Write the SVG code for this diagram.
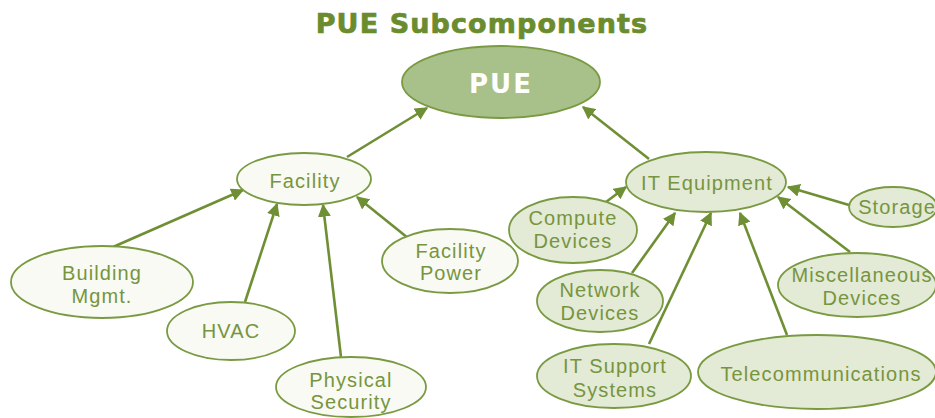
<svg xmlns="http://www.w3.org/2000/svg" width="935" height="418" viewBox="0 0 935 418">
<defs>
<style>
.t{font-family:"Liberation Sans",Arial,sans-serif;font-size:20px;fill:#77953e;text-anchor:middle;letter-spacing:1.1px}
.light{fill:#f8faf3;stroke:#7a9a42;stroke-width:1.8}
.green{fill:#e3ead5;stroke:#7a9a42;stroke-width:1.8}
.c{stroke:#6f8f34;stroke-width:2.6;fill:none;marker-end:url(#ah)}
</style>
<marker id="ah" viewBox="0 0 10 10" refX="9" refY="5" markerWidth="5" markerHeight="5" markerUnits="strokeWidth" orient="auto">
<path d="M0,0 L10,5 L0,10 z" fill="#6f8f34"/>
</marker>
</defs>
<rect width="935" height="418" fill="#ffffff"/>
<text x="482" y="33" style="font-family:'DejaVu Sans',sans-serif;font-size:27px;font-weight:bold;fill:#6a8c2e;stroke:#6a8c2e;stroke-width:0.7;text-anchor:middle;letter-spacing:1.1px">PUE Subcomponents</text>
<g id="connectors">
<line class="c" x1="347" y1="157" x2="427" y2="108"/>
<line class="c" x1="649" y1="159" x2="583" y2="107"/>
<line class="c" x1="113" y1="247" x2="243" y2="190"/>
<line class="c" x1="245" y1="302" x2="277" y2="204"/>
<line class="c" x1="341" y1="357" x2="323" y2="205"/>
<line class="c" x1="408" y1="238" x2="357" y2="197"/>
<line class="c" x1="606" y1="202" x2="626" y2="187"/>
<line class="c" x1="632" y1="273" x2="675" y2="213"/>
<line class="c" x1="649" y1="344" x2="711" y2="213"/>
<line class="c" x1="787" y1="335" x2="740" y2="213"/>
<line class="c" x1="850" y1="252" x2="778" y2="197"/>
<line class="c" x1="849" y1="205" x2="788" y2="187"/>
</g>
<g id="pue">
<ellipse cx="501" cy="82" rx="99" ry="36" fill="#a8c08a" stroke="#7a9a42" stroke-width="1.8"/>
<text x="501" y="93" style="font-family:'DejaVu Sans',sans-serif;font-size:26px;font-weight:bold;fill:#ffffff;text-anchor:middle;letter-spacing:2px">PUE</text>
</g>
<g id="facility">
<ellipse class="light" cx="304" cy="179" rx="67" ry="26"/>
<text class="t" x="305" y="188">Facility</text>
</g>
<g id="building">
<ellipse class="light" cx="102" cy="282" rx="91" ry="36"/>
<text class="t" x="102" y="280">Building</text>
<text class="t" x="102" y="303">Mgmt.</text>
</g>
<g id="hvac">
<ellipse class="light" cx="231" cy="331" rx="64" ry="29"/>
<text class="t" x="231" y="338">HVAC</text>
</g>
<g id="physical">
<ellipse class="light" cx="351" cy="387" rx="75" ry="30"/>
<text class="t" x="351" y="387">Physical</text>
<text class="t" x="351" y="409">Security</text>
</g>
<g id="facilitypower">
<ellipse class="light" cx="450" cy="261" rx="68" ry="32"/>
<text class="t" x="451" y="258">Facility</text>
<text class="t" x="451" y="280">Power</text>
</g>
<g id="itequipment">
<ellipse class="green" cx="706" cy="182" rx="80" ry="30"/>
<text class="t" x="707" y="190">IT Equipment</text>
</g>
<g id="compute">
<ellipse class="green" cx="573" cy="230" rx="64" ry="33"/>
<text class="t" x="573" y="225">Compute</text>
<text class="t" x="573" y="248">Devices</text>
</g>
<g id="network">
<ellipse class="green" cx="600" cy="301" rx="63" ry="31"/>
<text class="t" x="600" y="297">Network</text>
<text class="t" x="600" y="320">Devices</text>
</g>
<g id="itsupport">
<ellipse class="green" cx="614" cy="376" rx="77" ry="32"/>
<text class="t" x="615" y="373">IT Support</text>
<text class="t" x="615" y="397">Systems</text>
</g>
<g id="telecom">
<ellipse class="green" cx="817" cy="372" rx="119" ry="37"/>
<text class="t" x="821" y="381">Telecommunications</text>
</g>
<g id="misc">
<ellipse class="green" cx="857" cy="285" rx="79" ry="32"/>
<text class="t" x="862" y="282">Miscellaneous</text>
<text class="t" x="862" y="305">Devices</text>
</g>
<g id="storage">
<ellipse class="green" cx="893" cy="207" rx="44" ry="20"/>
<text class="t" x="897" y="214">Storage</text>
</g>
</svg>
